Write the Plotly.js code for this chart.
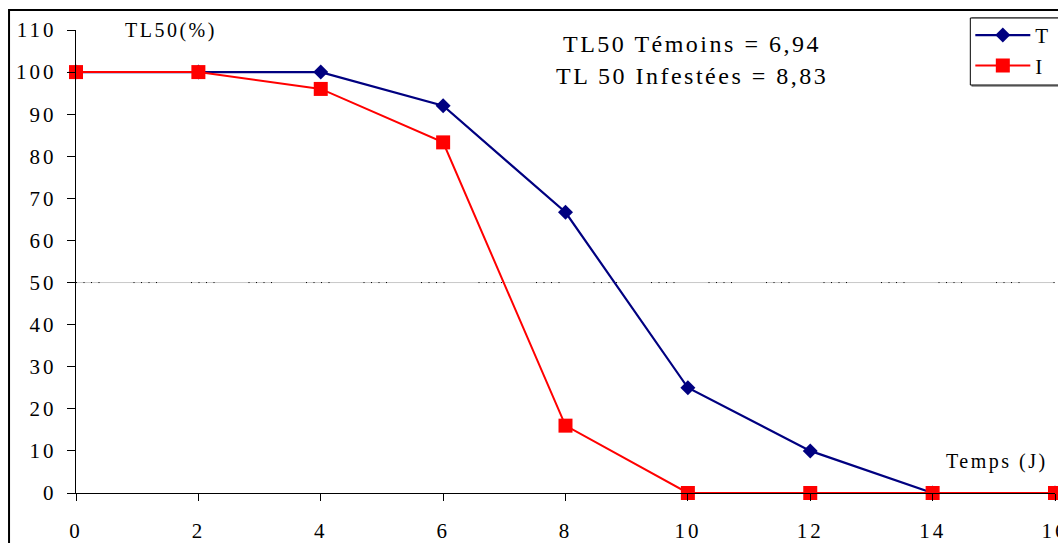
<!DOCTYPE html>
<html>
<head>
<meta charset="utf-8">
<script src="https://cdn.plot.ly/plotly-3.0.1.min.js"></script>
<style>
html,body{margin:0;padding:0;background:#fff;}
#chart{width:1058px;height:543px;}
.xtick text, .ytick text {letter-spacing:3px;}
.annotation-text {letter-spacing:2.5px;}
.legendtext {letter-spacing:2px;}
</style>
</head>
<body>
<div id="chart"></div>
<script>
const days = [0, 2, 4, 6, 8, 10, 12, 14, 16];
const seriesT = [100, 100, 100, 92, 66.7, 25, 10, 0, 0];
const seriesI = [100, 100, 96, 83.3, 16, 0, 0, 0, 0];
const seriesNames = ['T', 'I'];
const refLevel = 50;
const yTicks = [0,10,20,30,40,50,60,70,80,90,100,110];
const xTicks = [0,2,4,6,8,10,12,14,16];
const labelY = 'TL50(%)';
const labelX = 'Temps (J)';
const noteT = 'TL50 Témoins = 6,94';
const noteI = 'TL 50 Infestées = 8,83';

const serif = 'Liberation Serif, Times New Roman, serif';

const traces = [
  {x: days, y: seriesT, name: seriesNames[0], type: 'scatter', mode: 'lines+markers',
   line: {color: '#000080', width: 2.2}, marker: {symbol: 'diamond', size: 11.5, color: '#000080'}, cliponaxis: false},
  {x: days, y: seriesI, name: seriesNames[1], type: 'scatter', mode: 'lines+markers',
   line: {color: '#ff0000', width: 2}, marker: {symbol: 'square', size: 14, color: '#ff0000'}, cliponaxis: false}
];

const layout = {
  width: 1058, height: 543,
  margin: {l: 76, r: 3, t: 30, b: 50, autoexpand: false},
  paper_bgcolor: '#fff', plot_bgcolor: 'rgba(0,0,0,0)',
  font: {family: serif, size: 20, color: '#000'},
  showlegend: true,
  legend: {x: 0.9135, y: 1.0325, xanchor: 'left', yanchor: 'top',
    borderwidth: 0, bgcolor: 'rgba(0,0,0,0)',
    font: {family: serif, size: 21, color: '#000'}, itemwidth: 55, tracegroupgap: 0},
  xaxis: {range: [0, 16], tickvals: xTicks, ticktext: xTicks.map(String),
    showgrid: false, zeroline: false, showline: true, linecolor: '#000', linewidth: 1.2,
    ticks: 'outside', ticklen: 7, tickcolor: '#000', tickwidth: 1, ticklabeloverflow: 'allow',
    tickfont: {family: serif, size: 21, color: '#000'}, ticklabelstandoff: 12, fixedrange: true},
  yaxis: {range: [0, 110], tickvals: yTicks, ticktext: yTicks.map(String),
    showgrid: false, zeroline: false, showline: true, linecolor: '#000', linewidth: 1.2,
    ticks: 'outside', ticklen: 8, tickcolor: '#000', tickwidth: 1, ticklabeloverflow: 'allow',
    tickfont: {family: serif, size: 21, color: '#000'}, ticklabelstandoff: 6, fixedrange: true},
  shapes: [
    {type: 'line', xref: 'x', yref: 'y', x0: 0, x1: 16, y0: refLevel, y1: refLevel,
     line: {color: '#c8c8c8', width: 1}, layer: 'below'},
    {type: 'line', xref: 'x', yref: 'y', x0: 0, x1: 16, y0: refLevel, y1: refLevel,
     line: {color: '#000', width: 1, dash: '1px,6.5px,1px,6.5px,1px,6.5px,1px,34px'}, layer: 'below'},
    {type: 'rect', xref: 'paper', yref: 'paper', x0: -0.0684, x1: 1.2, y0: -0.3, y1: 1.0432,
     line: {color: '#000', width: 2}, fillcolor: 'rgba(0,0,0,0)', layer: 'below'},
    {type: 'rect', xref: 'paper', yref: 'paper', x0: 0.9155, x1: 1.1, y0: 0.8790, y1: 1.0259,
     line: {color: '#808080', width: 1.5}, fillcolor: 'rgba(0,0,0,0)', layer: 'below'},
    {type: 'rect', xref: 'paper', yref: 'paper', x0: 0.9135, x1: 1.1, y0: 0.8812, y1: 1.0259,
     line: {color: '#000', width: 1}, fillcolor: '#fff', layer: 'below'}
  ],
  annotations: [
    {text: labelY, xref: 'x', yref: 'y', x: 1.55, y: 110, showarrow: false,
     font: {family: serif, size: 20, color: '#000'}},
    {text: noteT, xref: 'x', yref: 'y', x: 10.07, y: 106.7, showarrow: false,
     font: {family: serif, size: 24, color: '#000'}},
    {text: noteI, xref: 'x', yref: 'y', x: 10.07, y: 99, showarrow: false,
     font: {family: serif, size: 24, color: '#000'}},
    {text: labelX, xref: 'x', yref: 'y', x: 15.05, y: 7.6, showarrow: false,
     font: {family: serif, size: 20, color: '#000'}}
  ]
};

Plotly.newPlot('chart', traces, layout, {displayModeBar: false, staticPlot: true});
</script>
</body>
</html>
